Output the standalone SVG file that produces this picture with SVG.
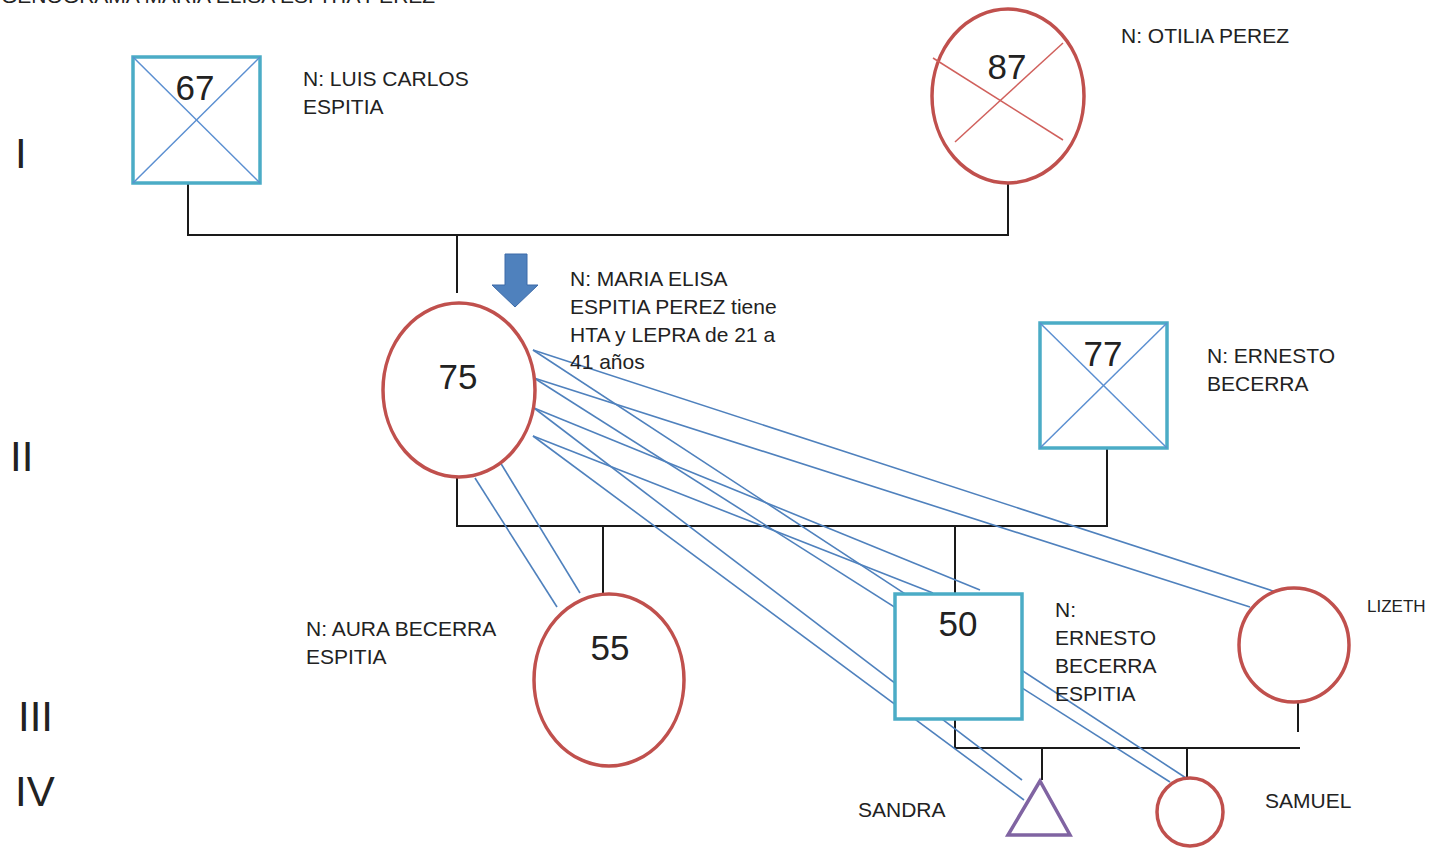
<svg xmlns="http://www.w3.org/2000/svg" width="1436" height="848" viewBox="0 0 1436 848">
<style>
  text { font-family: "Liberation Sans", Arial, sans-serif; fill: #222; }
  .lbl { font-size: 21px; }
  .num { font-size: 35px; text-anchor: middle; }
  .gen { font-size: 42px; }
  .male { fill: #fff; stroke: #4bacc6; stroke-width: 3.5; }
  .female { fill: #fff; stroke: #c0504d; stroke-width: 3.5; }
  .xblue { stroke: #5b8fd1; stroke-width: 1.5; }
  .xred { stroke: #d0605c; stroke-width: 1.5; }
  .link { stroke: #1a1a1a; stroke-width: 2; fill: none; }
  .rel { stroke: #4f81bd; stroke-width: 1.6; fill: none; }
</style>
<rect width="1436" height="848" fill="#fff"/>

<text class="lbl" x="1" y="3">GENOGRAMA MARIA ELISA ESPITIA PEREZ</text>

<g id="generations">
  <text class="gen" x="15" y="168">I</text>
  <text class="gen" x="10" y="471">II</text>
  <text class="gen" x="18" y="731">III</text>
  <text class="gen" x="15" y="806">IV</text>
</g>

<g id="connectors">
  <polyline class="link" points="188,183 188,235 1008,235 1008,183"/>
  <line class="link" x1="457" y1="235" x2="457" y2="293"/>
  <polyline class="link" points="457,477 457,526 1107,526 1107,448"/>
  <line class="link" x1="603" y1="526" x2="603" y2="593"/>
  <line class="link" x1="955" y1="526" x2="955" y2="594"/>
  <polyline class="link" points="955,719 955,748 1300,748"/>
  <line class="link" x1="1298" y1="702" x2="1298" y2="732"/>
  <line class="link" x1="1042" y1="748" x2="1042" y2="780"/>
  <line class="link" x1="1187" y1="748" x2="1187" y2="778"/>
  <g id="relations">
    <line class="rel" x1="533" y1="350" x2="1276" y2="592"/>
    <line class="rel" x1="534" y1="378" x2="1250" y2="607"/>
    <line class="rel" x1="533" y1="350" x2="1186" y2="778"/>
    <line class="rel" x1="534" y1="378" x2="1170" y2="782"/>
    <line class="rel" x1="534" y1="408" x2="980" y2="590"/>
    <line class="rel" x1="533" y1="436" x2="933" y2="593"/>
    <line class="rel" x1="534" y1="408" x2="1022" y2="780"/>
    <line class="rel" x1="533" y1="436" x2="1024" y2="800"/>
    <line class="rel" x1="475" y1="478" x2="557" y2="607"/>
    <line class="rel" x1="500" y1="462" x2="580" y2="593"/>
  </g>
</g>

<g id="luis">
  <rect class="male" x="133" y="57" width="127" height="126"/>
  <line class="xblue" x1="133" y1="57" x2="260" y2="183"/>
  <line class="xblue" x1="260" y1="57" x2="133" y2="183"/>
  <text class="num" x="195" y="100">67</text>
  <text class="lbl" x="303" y="86">N: LUIS CARLOS</text>
  <text class="lbl" x="303" y="114">ESPITIA</text>
</g>

<g id="otilia">
  <ellipse class="female" cx="1008" cy="96" rx="76" ry="87"/>
  <line class="xred" x1="933" y1="58" x2="1063" y2="140"/>
  <line class="xred" x1="955" y1="142" x2="1063" y2="43"/>
  <text class="num" x="1007" y="79">87</text>
  <text class="lbl" x="1121" y="43">N: OTILIA PEREZ</text>
</g>

<g id="maria">
  <ellipse class="female" cx="459" cy="390" rx="76" ry="87"/>
  <text class="num" x="458" y="389">75</text>
  <path d="M505,254 H527 V285 H538 L515,307 L492,285 H505 Z" fill="#4f81bd" stroke="#3c6aa8" stroke-width="1"/>
  <text class="lbl" x="570" y="286">N: MARIA ELISA</text>
  <text class="lbl" x="570" y="314">ESPITIA PEREZ tiene</text>
  <text class="lbl" x="570" y="342">HTA y LEPRA de 21 a</text>
  <text class="lbl" x="570" y="369">41 años</text>
</g>

<g id="ernesto">
  <rect class="male" x="1040" y="323" width="127" height="125"/>
  <line class="xblue" x1="1040" y1="323" x2="1167" y2="448"/>
  <line class="xblue" x1="1167" y1="323" x2="1040" y2="448"/>
  <text class="num" x="1103" y="366">77</text>
  <text class="lbl" x="1207" y="363">N: ERNESTO</text>
  <text class="lbl" x="1207" y="391">BECERRA</text>
</g>

<g id="aura">
  <ellipse class="female" cx="609" cy="680" rx="75" ry="86"/>
  <text class="num" x="610" y="660">55</text>
  <text class="lbl" x="306" y="636">N: AURA BECERRA</text>
  <text class="lbl" x="306" y="664">ESPITIA</text>
</g>

<g id="ernesto2">
  <rect class="male" x="895" y="594" width="127" height="125"/>
  <text class="num" x="958" y="636">50</text>
  <text class="lbl" x="1055" y="617">N:</text>
  <text class="lbl" x="1055" y="645">ERNESTO</text>
  <text class="lbl" x="1055" y="673">BECERRA</text>
  <text class="lbl" x="1055" y="701">ESPITIA</text>
</g>

<g id="lizeth">
  <ellipse class="female" cx="1294" cy="645" rx="55" ry="57"/>
  <text x="1367" y="612" style="font-size:17px">LIZETH</text>
</g>

<g id="sandra">
  <polygon points="1040,781 1008,835 1070,835" fill="#fff" stroke="#8064a2" stroke-width="3.5"/>
  <text class="lbl" x="858" y="817">SANDRA</text>
</g>

<g id="samuel">
  <ellipse class="female" cx="1190" cy="812" rx="33" ry="34"/>
  <text class="lbl" x="1265" y="808">SAMUEL</text>
</g>
</svg>
